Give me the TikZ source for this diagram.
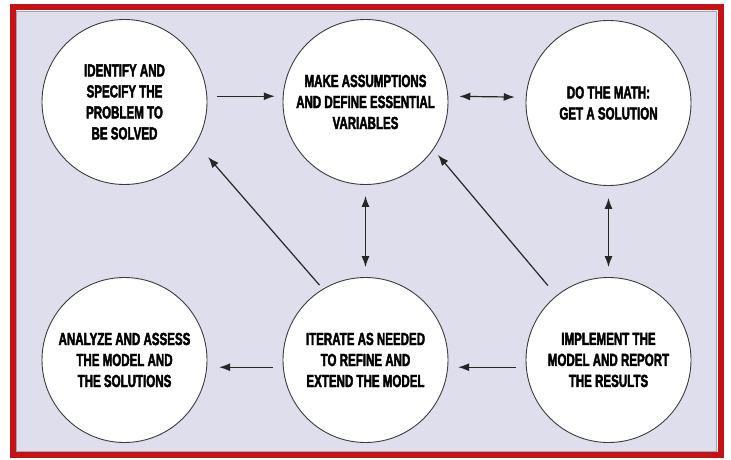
\documentclass[tikz,border=0pt]{standalone}
\usepackage{fontspec}
\usepackage{tikz}
\usetikzlibrary{arrows.meta,positioning}
\newfontfamily\posterfont[FakeStretch=0.66,FakeBold=2.2]{Liberation Sans}
\definecolor{framered}{RGB}{196,18,22}
\definecolor{panelbg}{RGB}{222,222,236}
\definecolor{ringgray}{RGB}{60,60,60}

\begin{document}
\begin{tikzpicture}[x=1pt,y=-1pt,
    stage/.style={circle,draw=ringgray,fill=white,line width=0.9pt,
                  minimum size=165pt,inner sep=0pt,align=center,
                  font=\posterfont\bfseries\fontsize{17.5}{21}\selectfont},
    arr/.style={-{Latex[length=11pt,width=8pt]},line width=1.2pt,black!85},
    dbl/.style={{Latex[length=11pt,width=8pt]}-{Latex[length=11pt,width=8pt]},
                line width=1.2pt,black!85}
  ]
    \useasboundingbox (0,0) rectangle (731,460);
    % frame and panel
    \fill[white] (0,0) rectangle (731,460);
    \draw[framered,line width=6pt] (13,7.5) rectangle (720.5,454.5);
    \filldraw[fill=panelbg,draw=gray!70,line width=0.6pt] (16,11) rectangle (716,451);

    % the six stages
    \node[stage] (ident) at (124.5,102) {IDENTIFY AND\\SPECIFY THE\\PROBLEM TO\\BE SOLVED};
    \node[stage] (assum) at (365.5,102) {MAKE ASSUMPTIONS\\AND DEFINE ESSENTIAL\\VARIABLES};
    \node[stage] (math)  at (608.5,103) {DO THE MATH:\\GET A SOLUTION};
    \node[stage] (anal)  at (124.5,360) {ANALYZE AND ASSESS\\THE MODEL AND\\THE SOLUTIONS};
    \node[stage] (iter)  at (365.5,360) {ITERATE AS NEEDED\\TO REFINE AND\\EXTEND THE MODEL};
    \node[stage] (impl)  at (608.5,360) {IMPLEMENT THE\\MODEL AND REPORT\\THE RESULTS};

    % connectors
    \draw[arr,shorten <=10pt,shorten >=8pt] (ident.4) -- (assum.176);
    \draw[dbl,shorten <=11pt,shorten >=11pt] (assum.4) -- (math.176);
    \draw[dbl,shorten <=12pt,shorten >=10pt] (math.south) -- (impl.north);
    \draw[dbl,shorten <=11pt,shorten >=10pt] (assum.south) -- (iter.north);
    \draw[arr,shorten <=10pt,shorten >=10pt] (impl.185) -- (iter.-5);
    \draw[arr,shorten <=10pt,shorten >=12pt] (iter.185) -- (anal.-5);
    \draw[arr,shorten <=5pt,shorten >=18pt] (iter.121) -- (ident.-30);
    \draw[arr,shorten <=13pt,shorten >=7pt] (impl.129) -- (assum.-35);
  \end{tikzpicture}
\end{document}
